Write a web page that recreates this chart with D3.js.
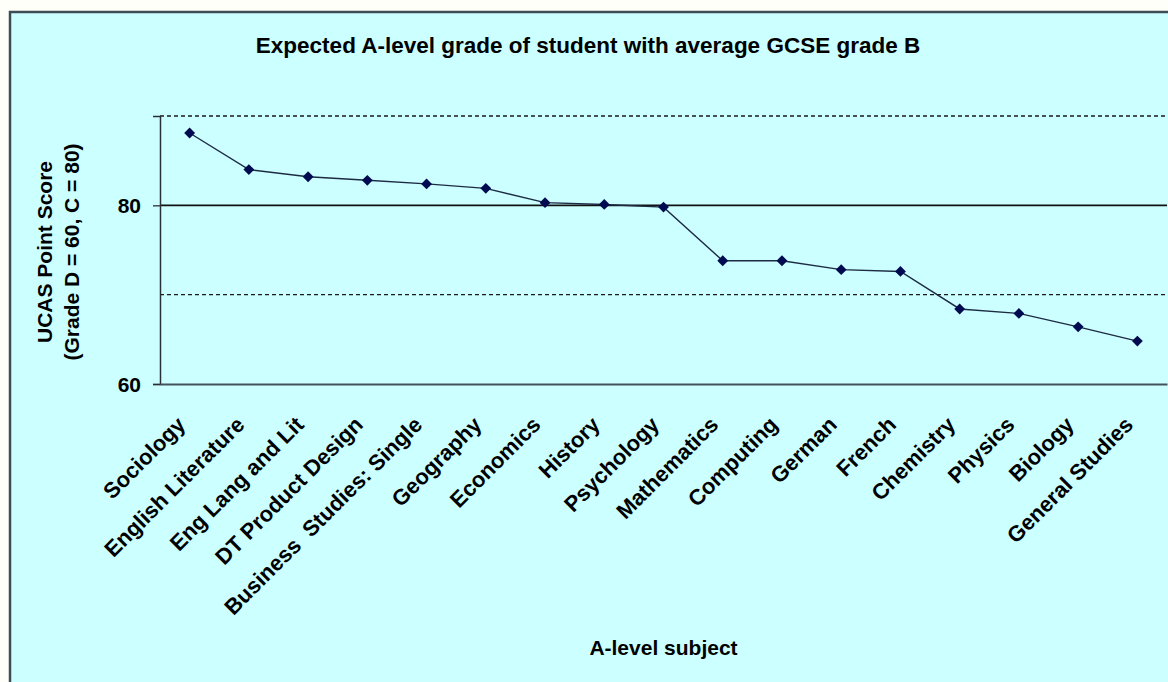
<!DOCTYPE html>
<html>
<head>
<meta charset="utf-8">
<script src="https://cdn.jsdelivr.net/npm/d3@7"></script>
<style>
  html, body { margin: 0; padding: 0; background: #fffffa; overflow: hidden; }
  svg { display: block; }
  text { font-family: "Liberation Sans", Arial, sans-serif; font-weight: bold; fill: #000; }
</style>
</head>
<body>
<svg id="chart" width="1168" height="682"></svg>
<script>
const subjects = ["Sociology", "English Literature", "Eng Lang and Lit", "DT Product Design",
  "Business  Studies: Single", "Geography", "Economics", "History", "Psychology",
  "Mathematics", "Computing", "German", "French", "Chemistry", "Physics", "Biology", "General Studies"];
const scores = [88.1, 84.0, 83.2, 82.8, 82.4, 81.9, 80.3, 80.1, 79.8,
  73.8, 73.8, 72.8, 72.6, 68.4, 67.9, 66.4, 64.8];
const yTicks = [60, 80];
const solidGrid = [80];
const dashedGrid = [70, 90];
const titleText = "Expected A-level grade of student with average GCSE grade B";
const yTitleLines = ["UCAS Point Score", "(Grade D = 60, C = 80)"];
const xTitleText = "A-level subject";

const svg = d3.select("#chart");
const W = 1168, H = 682;
const plot = { left: 160, right: 1167, top: 116, bottom: 384 };

// chart area background + frame
svg.append("rect").attr("x", 10).attr("y", 12).attr("width", W).attr("height", H)
  .attr("fill", "#ccffff").attr("stroke", "#3e4c58").attr("stroke-width", 2.5);

const x = d3.scaleBand().domain(subjects).range([plot.left, plot.right]);
const y = d3.scaleLinear().domain([60, 90]).range([plot.bottom, plot.top]);

// gridlines
svg.append("g").selectAll("line").data(dashedGrid).join("line")
  .attr("x1", plot.left).attr("x2", plot.right)
  .attr("y1", d => y(d)).attr("y2", d => y(d))
  .attr("stroke", "#1a1a1a").attr("stroke-width", 1.4).attr("stroke-dasharray", "4,3");
svg.append("g").selectAll("line").data(solidGrid).join("line")
  .attr("x1", plot.left).attr("x2", plot.right)
  .attr("y1", d => y(d)).attr("y2", d => y(d))
  .attr("stroke", "#111").attr("stroke-width", 1.6);

// y axis
const yAxis = svg.append("g").attr("transform", `translate(${plot.left},0)`)
  .call(d3.axisLeft(y).tickValues(yTicks).tickSize(7).tickPadding(12).tickFormat(d3.format("d")));
yAxis.select(".domain").attr("stroke", "#2a3038").attr("stroke-width", 1.5);
yAxis.selectAll(".tick line").attr("stroke", "#2a3038").attr("stroke-width", 1.3);
yAxis.selectAll(".tick text").attr("font-size", 21).attr("font-family", null)
  .attr("fill", "#000").attr("dy", "0.36em");

// x axis
const xAxis = svg.append("g").attr("transform", `translate(0,${plot.bottom})`)
  .call(d3.axisBottom(x).tickSize(0).tickSizeOuter(0));
xAxis.select(".domain").attr("stroke", "#44525e").attr("stroke-width", 2.2);
xAxis.selectAll(".tick text")
  .attr("font-size", 22).attr("font-family", null).attr("fill", "#000")
  .attr("y", 0).attr("x", 0).attr("dy", 0)
  .attr("text-anchor", "end")
  .style("white-space", "pre")
  .attr("transform", "translate(-3,42) rotate(-45)");

// line
const line = d3.line().x((d, i) => x(subjects[i]) + x.bandwidth() / 2).y(d => y(d));
svg.append("path").datum(scores).attr("d", line)
  .attr("fill", "none").attr("stroke", "#1c2a44").attr("stroke-width", 1.4);

// diamond markers
svg.append("g").selectAll("path").data(scores).join("path")
  .attr("d", d3.symbol().type(d3.symbolDiamond2).size(75))
  .attr("transform", (d, i) => `translate(${x(subjects[i]) + x.bandwidth() / 2},${y(d)})`)
  .attr("fill", "#000a50");

// titles
svg.append("text").attr("x", 588).attr("y", 53).attr("text-anchor", "middle")
  .attr("font-size", 22.5).text(titleText);

svg.selectAll(".ytitle").data(yTitleLines).join("text")
  .attr("class", "ytitle")
  .attr("text-anchor", "middle").attr("font-size", 21).attr("dy", "0.35em")
  .attr("transform", (d, i) => `translate(${[45, 72][i]},252) rotate(-90)`)
  .text(d => d);

svg.append("text").attr("x", (plot.left + plot.right) / 2).attr("y", 655)
  .attr("text-anchor", "middle").attr("font-size", 21).text(xTitleText);
</script>
</body>
</html>
